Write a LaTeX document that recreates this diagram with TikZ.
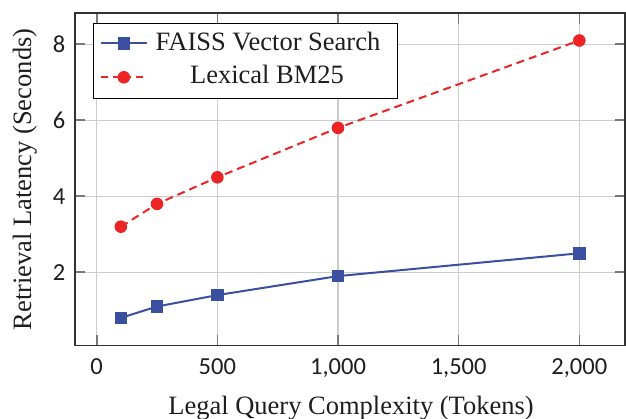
\documentclass[tikz,border=0pt]{standalone}
\usepackage{fontspec}
\usetikzlibrary{calc}
\setmainfont{Liberation Serif}
\newfontfamily\tickfont{Carlito}
\definecolor{faissblue}{RGB}{59,79,160}
\definecolor{bmred}{RGB}{237,36,38}
\definecolor{gridgray}{RGB}{204,204,204}
\definecolor{tickgray}{RGB}{120,120,120}
\definecolor{framegray}{RGB}{50,50,50}
\definecolor{textdark}{RGB}{30,30,30}
\tikzset{
  gridline/.style={draw=gridgray, line width=1.2pt},
  tickline/.style={draw=tickgray, line width=1.6pt},
  frameline/.style={draw=framegray, line width=1.5pt},
  faissline/.style={draw=faissblue, line width=2pt},
  bmline/.style={draw=bmred, line width=2pt, dash pattern=on 8pt off 5pt},
  faissmark/.style={fill=faissblue, draw=none, minimum size=12.5pt, inner sep=0pt, rectangle},
  bmmark/.style={fill=bmred, draw=none, minimum size=12.6pt, inner sep=0pt, circle},
  ticklabel/.style={font=\tickfont\fontsize{24.5pt}{24.5pt}\selectfont, text=textdark, inner sep=0pt},
  axislabel/.style={font=\fontsize{26.5pt}{26.5pt}\selectfont, text=textdark, inner sep=0pt},
  legendbox/.style={draw=black, line width=1pt, fill=white},
  legendtext/.style={font=\fontsize{26.5pt}{26.5pt}\selectfont, text=textdark, inner sep=0pt, anchor=base}
}
\begin{document}
\begin{tikzpicture}[x=1pt,y=1pt]
\useasboundingbox (0,0) rectangle (626,419);
% data coordinate system
\begin{scope}[x={(0.2413pt,0pt)}, y={(0pt,38pt)}, shift={(96.7pt,70.7pt)}]
  \coordinate (ll) at (-90,0.07);
  \coordinate (ur) at (2190,8.82);
  % grid
  \foreach \t in {0,500,1000,1500,2000} {
    \draw[gridline] (\t,0.07) -- (\t,8.82);
  }
  \foreach \v in {2,4,6,8} {
    \draw[gridline] (-90,\v) -- (2190,\v);
  }
  % ticks
  \foreach \t in {0,500,1000,1500,2000} {
    \draw[tickline] (\t,0.07) -- ++(0,10.5pt);
    \draw[tickline] (\t,8.82) -- ++(0,-10.5pt);
  }
  \foreach \v in {2,4,6,8} {
    \draw[tickline] (-90,\v) -- ++(10.5pt,0);
    \draw[tickline] (2190,\v) -- ++(-10.5pt,0);
  }
  % frame
  \draw[frameline] (ll) rectangle (ur);
  % tick labels
  \foreach \t/\lab in {0/0,500/500,1000/{1,000},1500/{1,500},2000/{2,000}} {
    \node[ticklabel, anchor=north] (xl\t) at ([yshift=-12.5pt]\t,0.07) {\lab};
  }
  \foreach \v in {2,4,6,8} {
    \node[ticklabel, anchor=east] (yl\v) at ([xshift=-9.5pt]-90,\v) {\v};
  }
  % data
  \coordinate (f1) at (100,0.8);
  \coordinate (f2) at (250,1.1);
  \coordinate (f3) at (500,1.4);
  \coordinate (f4) at (1000,1.9);
  \coordinate (f5) at (2000,2.5);
  \coordinate (b1) at (100,3.2);
  \coordinate (b2) at (250,3.8);
  \coordinate (b3) at (500,4.5);
  \coordinate (b4) at (1000,5.8);
  \coordinate (b5) at (2000,8.1);
  \draw[faissline] (f1) -- (f2) -- (f3) -- (f4) -- (f5);
  \draw[bmline] (b1) -- (b2) -- (b3) -- (b4) -- (b5);
  \foreach \i in {1,...,5} {
    \node[faissmark] (fm\i) at (f\i) {};
    \node[bmmark] (bm\i) at (b\i) {};
  }
\end{scope}
% axis labels
\node[axislabel, anchor=base] (xlabel) at (351,4.7) {Legal Query Complexity (Tokens)};
\node[axislabel, anchor=base, rotate=90] (ylabel) at (31,239.5) {Retrieval Latency (Seconds)};
% legend
\node[legendbox, minimum width=304.6pt, minimum height=75.6pt, anchor=north west, inner sep=0pt] (legend) at (92.7,396.3) {};
\coordinate (l1a) at (101,375.7);
\coordinate (l1b) at (146.7,375.7);
\coordinate (l2a) at (101,341.7);
\coordinate (l2b) at (146.7,341.7);
\draw[faissline] (l1a) -- (l1b);
\draw[bmline, dash pattern=on 7pt off 4.5pt] (l2a) -- (l2b);
\node[faissmark] (lm1) at ($(l1a)!0.5!(l1b)$) {};
\node[bmmark] (lm2) at ($(l2a)!0.5!(l2b)$) {};
\node[legendtext] (lt1) at (268,368.3) {FAISS Vector Search};
\node[legendtext] (lt2) at (267,335.7) {Lexical BM25};
\end{tikzpicture}
\end{document}
